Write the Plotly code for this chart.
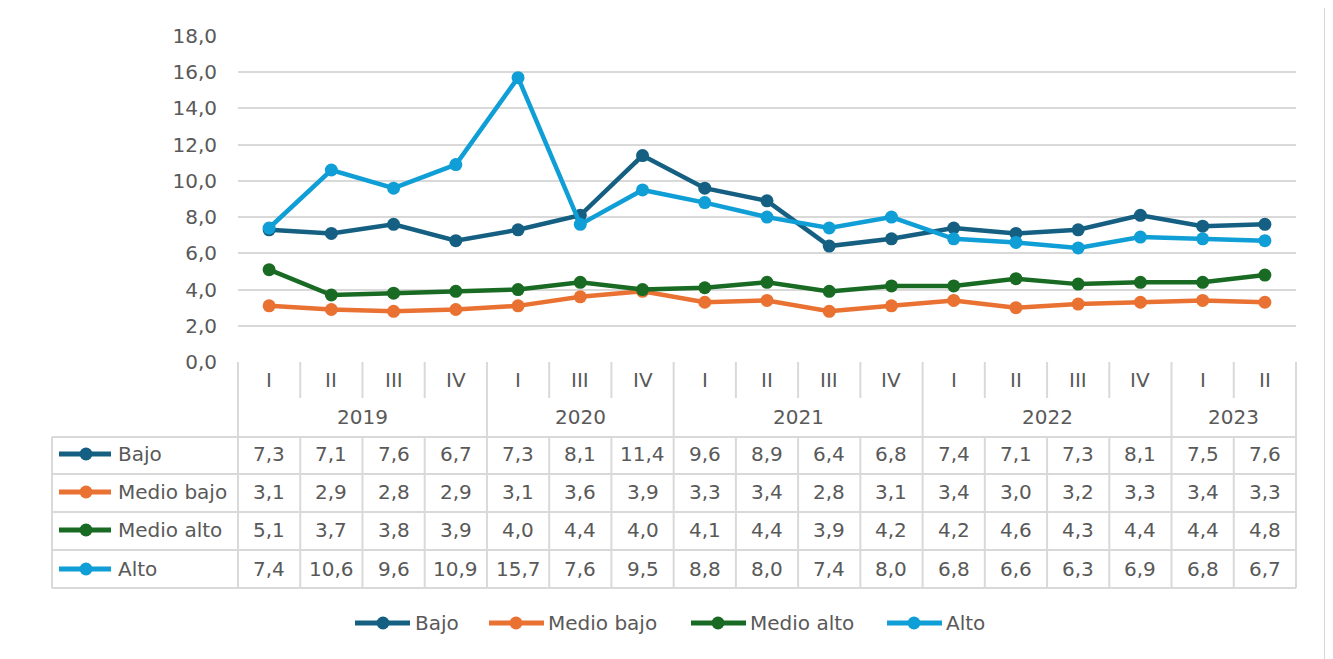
import plotly.graph_objects as go

quarters = ['I', 'II', 'III', 'IV', 'I', 'III', 'IV', 'I', 'II', 'III', 'IV',
            'I', 'II', 'III', 'IV', 'I', 'II']
years = ['2019', '2019', '2019', '2019', '2020', '2020', '2020',
         '2021', '2021', '2021', '2021', '2022', '2022', '2022', '2022',
         '2023', '2023']

bajo = [7.3, 7.1, 7.6, 6.7, 7.3, 8.1, 11.4, 9.6, 8.9, 6.4, 6.8, 7.4, 7.1, 7.3, 8.1, 7.5, 7.6]
medio_bajo = [3.1, 2.9, 2.8, 2.9, 3.1, 3.6, 3.9, 3.3, 3.4, 2.8, 3.1, 3.4, 3.0, 3.2, 3.3, 3.4, 3.3]
medio_alto = [5.1, 3.7, 3.8, 3.9, 4.0, 4.4, 4.0, 4.1, 4.4, 3.9, 4.2, 4.2, 4.6, 4.3, 4.4, 4.4, 4.8]
alto = [7.4, 10.6, 9.6, 10.9, 15.7, 7.6, 9.5, 8.8, 8.0, 7.4, 8.0, 6.8, 6.6, 6.3, 6.9, 6.8, 6.7]

names = ['Bajo', 'Medio bajo', 'Medio alto', 'Alto']
series = [bajo, medio_bajo, medio_alto, alto]
colors = ['#156082', '#E97132', '#196B24', '#0F9ED5']

OFF = 8                      # page body margin
W, H = 1333 - OFF, 659 - OFF
L, R, T, B = 238, 1296, 36, 362   # plot area in screen pixels
FONT = 'DejaVu Sans, Arial, sans-serif'
TXT = '#595959'
GRID = '#d9d9d9'


def px(x):
    return (x - L) / (R - L)


def py(y):
    return (B - y) / (B - T)


def fmt(v):
    return f'{v:.1f}'.replace('.', ',')


idx = list(range(len(quarters)))

fig = go.Figure()
for name, vals, col in zip(names, series, colors):
    fig.add_trace(go.Scatter(x=idx, y=vals, name=name, mode='lines+markers',
                             line=dict(color=col, width=4.5),
                             marker=dict(color=col, size=13),
                             showlegend=False, cliponaxis=False))

shapes = []
ann = []

# outer frame
shapes.append(dict(type='rect', xref='paper', yref='paper', layer='below',
                   x0=px(7), x1=px(1325), y0=py(7), y1=py(680),
                   fillcolor='white', line=dict(color='#d6d6d6', width=2)))


def hline(y, x0, x1):
    shapes.append(dict(type='line', xref='paper', yref='paper',
                       x0=px(x0), x1=px(x1), y0=py(y), y1=py(y),
                       line=dict(color=GRID, width=2)))


for y in [437, 474, 512, 550, 588]:
    hline(y, 52, R)
shapes.append(dict(type='line', xref='paper', yref='paper', x0=px(52), x1=px(52),
                   y0=py(437), y1=py(588), line=dict(color=GRID, width=2)))
for xe in [0, 1]:
    shapes.append(dict(type='line', xref='paper', yref='paper', x0=xe, x1=xe,
                       y0=py(B), y1=py(588), line=dict(color=GRID, width=2)))

for i in range(1, len(quarters)):
    if years[i] != years[i - 1]:
        segs = [(B, 588)]
    else:
        segs = [(B, 398), (437, 588)]
    for a, b in segs:
        shapes.append(dict(type='line', xref='x', yref='paper', x0=i - 0.5, x1=i - 0.5,
                           y0=py(a), y1=py(b), line=dict(color=GRID, width=2)))


def label(x, y, text, xref='x', xanchor='center'):
    ann.append(dict(x=x, y=py(y), xref=xref, yref='paper', text=text, showarrow=False,
                    xanchor=xanchor, yanchor='middle', font=dict(size=20, color=TXT)))


# quarter and year labels
for i, q in enumerate(quarters):
    label(i, 380, q)
for yr in sorted(set(years)):
    pos = [i for i, y in enumerate(years) if y == yr]
    label(sum(pos) / len(pos), 417, yr)

# data rows with legend keys
row_y = [454, 492, 530, 569]
for name, vals, col, ry in zip(names, series, colors, row_y):
    for i, v in enumerate(vals):
        label(i, ry, fmt(v))
    shapes.append(dict(type='line', xref='paper', yref='paper', x0=px(59), x1=px(111),
                       y0=py(ry), y1=py(ry), line=dict(color=col, width=5)))
    shapes.append(dict(type='circle', xref='paper', yref='paper', xsizemode='pixel',
                       ysizemode='pixel', xanchor=px(86), yanchor=py(ry),
                       x0=-6.5, x1=6.5, y0=-6.5, y1=6.5, fillcolor=col, line=dict(width=0)))
    label(px(116), ry, name, xref='paper', xanchor='left')

# bottom legend
leg = [(355, 410, 383, 413), (489, 544, 516, 546), (691, 746, 718, 748), (887, 942, 914, 944)]
for name, col, (a, b, m, t) in zip(names, colors, leg):
    shapes.append(dict(type='line', xref='paper', yref='paper', x0=px(a), x1=px(b),
                       y0=py(623), y1=py(623), line=dict(color=col, width=5)))
    shapes.append(dict(type='circle', xref='paper', yref='paper', xsizemode='pixel',
                       ysizemode='pixel', xanchor=px(m), yanchor=py(623),
                       x0=-6.5, x1=6.5, y0=-6.5, y1=6.5, fillcolor=col, line=dict(width=0)))
    label(px(t), 623, name, xref='paper', xanchor='left')

fig.update_layout(
    width=W, height=H,
    margin=dict(l=L - OFF, r=W - (R - OFF), t=T - OFF, b=H - (B - OFF), autoexpand=False),
    paper_bgcolor='#f8f8f8',
    plot_bgcolor='rgba(0,0,0,0)',
    separators=',.',
    font=dict(family=FONT, size=20, color=TXT),
    shapes=shapes,
    annotations=ann,
    showlegend=False,
)
fig.update_xaxes(range=[-0.5, len(quarters) - 0.5], showgrid=False, zeroline=False,
                 showticklabels=False, showline=False)
fig.update_yaxes(range=[0, 18], dtick=2, tickformat='.1f', showgrid=True, gridcolor=GRID,
                 gridwidth=2, zeroline=False, showline=False, ticks='',
                 ticklabelstandoff=20, tickfont=dict(size=20, color=TXT))

fig.write_html('out.html')
